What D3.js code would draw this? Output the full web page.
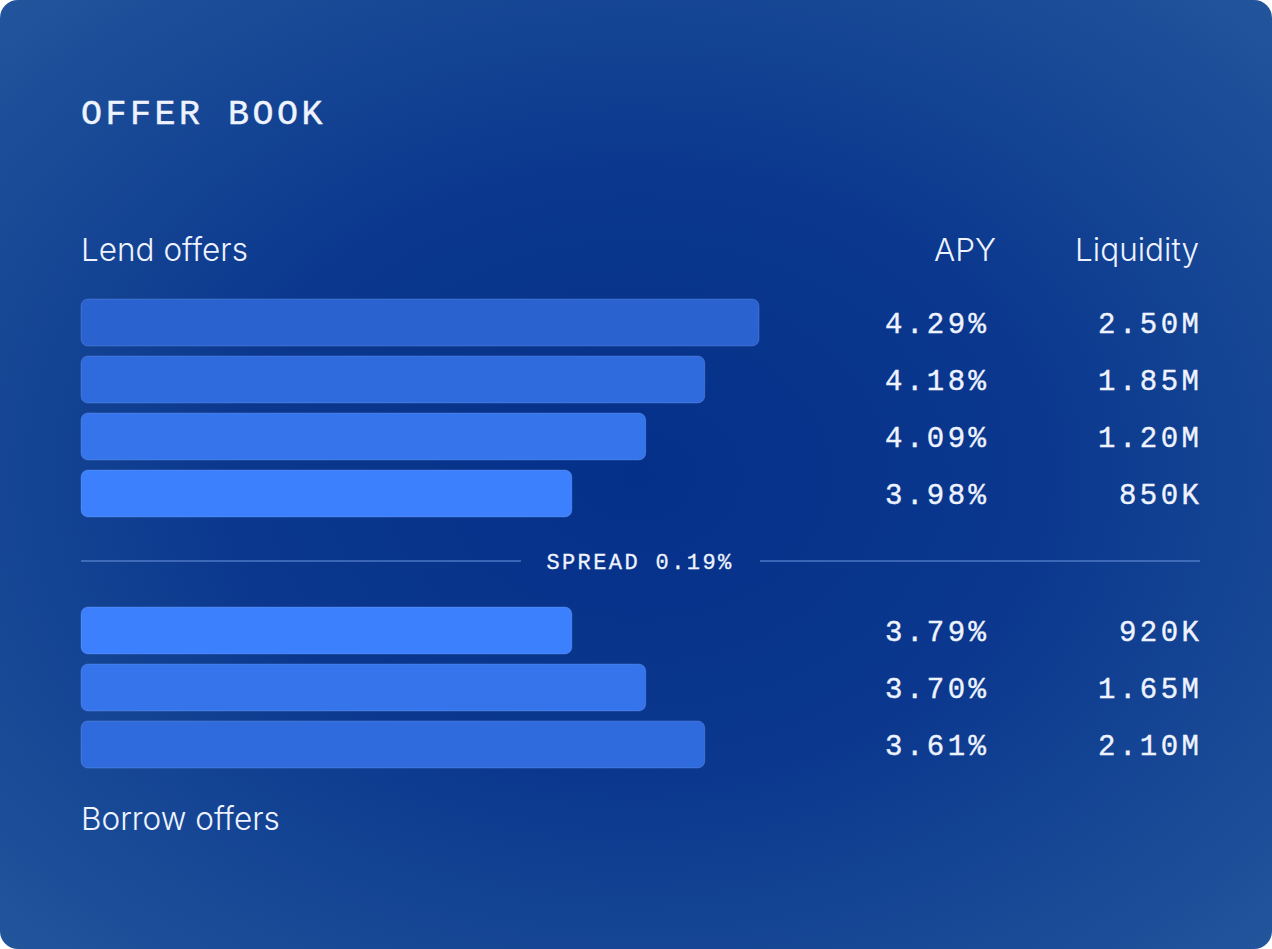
<!DOCTYPE html>
<html>
<head>
<meta charset="utf-8">
<script src="https://cdn.jsdelivr.net/npm/d3@7"></script>
<style>
  body { margin: 0; background: #ffffff; }
  svg { display: block; }
</style>
</head>
<body>
<script>
// data
var lendApy = [4.29, 4.18, 4.09, 3.98];
var lendLiquidity = [2500000, 1850000, 1200000, 850000];
var lendDepth = [100, 92, 83.3, 72.4];

var borrowApy = [3.79, 3.70, 3.61];
var borrowLiquidity = [920000, 1650000, 2100000];
var borrowDepth = [72.4, 83.3, 92];

var spread = 0.19;

// svg size
var svgWidth = 1272;
var svgHeight = 949;

var left = 81;
var right = 1199;
var apyRight = 986;

var monoFont = "'Liberation Mono', 'DejaVu Sans Mono', monospace";
var sansFont = "Inter, 'Noto Sans', sans-serif";
var ink = "#eef3ff";

var svg = d3.select("body")
  .append("svg")
  .attr("width", svgWidth)
  .attr("height", svgHeight);

var defs = svg.append("defs");
var bg = defs.append("radialGradient")
  .attr("id", "bg")
  .attr("cx", "50%")
  .attr("cy", "50%")
  .attr("r", "72%");
bg.append("stop").attr("offset", "0%").attr("stop-color", "#05308a");
bg.append("stop").attr("offset", "45%").attr("stop-color", "#0b388e");
bg.append("stop").attr("offset", "100%").attr("stop-color", "#22569c");

svg.append("rect")
  .attr("width", svgWidth)
  .attr("height", svgHeight)
  .attr("rx", 18)
  .attr("fill", "url(#bg)");

// scales
var xScale = d3.scaleLinear()
  .domain([0, 100])
  .range([0, 678]);

var colorScale = d3.scaleLinear()
  .domain([72.4, 100])
  .range(["#3c80fd", "#2a62cf"]);

var lendY = d3.scaleBand()
  .domain(d3.range(lendApy.length))
  .range([299, 517])
  .paddingInner(0.175);

var borrowY = d3.scaleBand()
  .domain(d3.range(borrowApy.length))
  .range([607, 768])
  .paddingInner(0.175);

function fmtLiquidity(v) {
  if (v >= 1000000) return (v / 1000000).toFixed(2) + "M";
  return Math.round(v / 1000) + "K";
}

// title
svg.append("text")
  .attr("x", left)
  .attr("y", 124)
  .attr("font-family", monoFont)
  .attr("font-size", 35)
  .attr("letter-spacing", 3.5)
  .attr("fill", ink)
  .attr("stroke", ink)
  .attr("stroke-width", 0.45)
  .text("OFFER BOOK");

// headers
function header(x, y, anchor, label) {
  svg.append("text")
    .attr("x", x)
    .attr("y", y)
    .attr("text-anchor", anchor)
    .attr("font-family", sansFont)
    .attr("font-weight", 300)
    .attr("font-size", 31.5)
    .attr("fill", ink)
    .text(label);
}
header(left, 261, "start", "Lend offers");
header(996, 261, "end", "APY");
header(1199, 261, "end", "Liquidity");
header(left, 830, "start", "Borrow offers");

// one block of rows
function drawRows(apy, liquidity, depth, yScale, cls) {
  var rows = apy.map(function(a, i) {
    return { apy: a, liquidity: liquidity[i], depth: depth[i], i: i };
  });

  var g = svg.append("g").attr("class", cls);

  g.selectAll("rect")
    .data(rows)
    .enter()
    .append("rect")
    .attr("x", left)
    .attr("y", d => yScale(d.i))
    .attr("width", d => xScale(d.depth))
    .attr("height", yScale.bandwidth())
    .attr("rx", 7)
    .attr("fill", d => colorScale(d.depth))
    .attr("stroke", "rgba(150,185,255,0.25)")
    .attr("stroke-width", 1);

  g.selectAll("text.apy")
    .data(rows)
    .enter()
    .append("text")
    .attr("class", "apy")
    .attr("x", apyRight + 3.5)
    .attr("y", d => yScale(d.i) + yScale.bandwidth() / 2 + 10.5)
    .attr("text-anchor", "end")
    .attr("font-family", monoFont)
    .attr("font-size", 29)
    .attr("letter-spacing", 3.5)
    .attr("fill", ink)
    .attr("stroke", ink)
    .attr("stroke-width", 0.4)
    .text(d => d.apy.toFixed(2) + "%");

  g.selectAll("text.liq")
    .data(rows)
    .enter()
    .append("text")
    .attr("class", "liq")
    .attr("x", right + 3.5)
    .attr("y", d => yScale(d.i) + yScale.bandwidth() / 2 + 10.5)
    .attr("text-anchor", "end")
    .attr("font-family", monoFont)
    .attr("font-size", 29)
    .attr("letter-spacing", 3.5)
    .attr("fill", ink)
    .attr("stroke", ink)
    .attr("stroke-width", 0.4)
    .text(d => fmtLiquidity(d.liquidity));
}

drawRows(lendApy, lendLiquidity, lendDepth, lendY, "lend");
drawRows(borrowApy, borrowLiquidity, borrowDepth, borrowY, "borrow");

// spread divider
var spreadY = 561;
svg.append("line")
  .attr("x1", left).attr("x2", 521)
  .attr("y1", spreadY).attr("y2", spreadY)
  .attr("stroke", "rgba(120,160,235,0.6)")
  .attr("stroke-width", 1.5);
svg.append("line")
  .attr("x1", 760).attr("x2", right + 1)
  .attr("y1", spreadY).attr("y2", spreadY)
  .attr("stroke", "rgba(120,160,235,0.6)")
  .attr("stroke-width", 1.5);

svg.append("text")
  .attr("x", 640)
  .attr("y", 569)
  .attr("text-anchor", "middle")
  .attr("font-family", monoFont)
  .attr("font-size", 22)
  .attr("letter-spacing", 2.4)
  .attr("fill", ink)
  .attr("stroke", ink)
  .attr("stroke-width", 0.3)
  .text("SPREAD " + spread.toFixed(2) + "%");
</script>
</body>
</html>
